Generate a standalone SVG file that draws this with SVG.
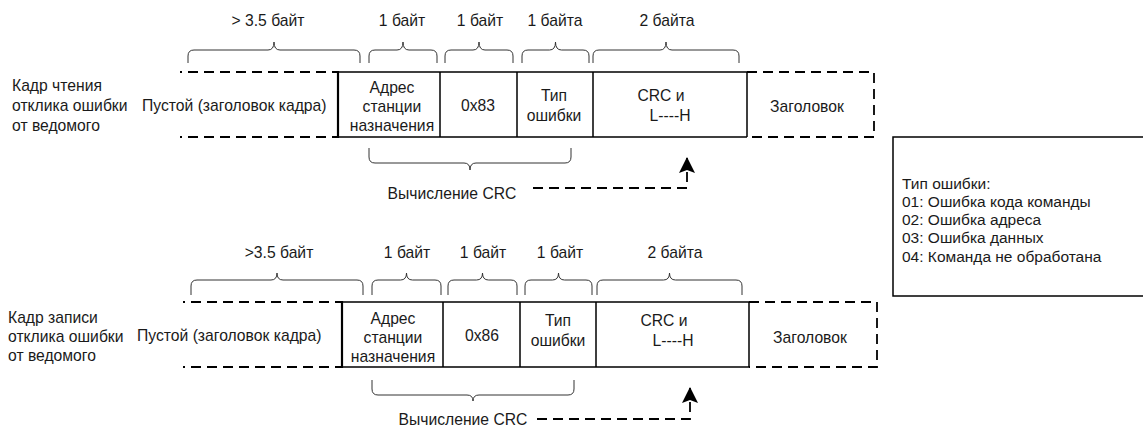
<svg xmlns="http://www.w3.org/2000/svg" width="1143" height="428" viewBox="0 0 1143 428">
<style>
text{font-family:"Liberation Sans",Arial,sans-serif;font-size:15.7px;fill:#1a1a1a}
.c{text-anchor:middle}
.solid{fill:none;stroke:#000;stroke-width:1.5}
.thick{fill:none;stroke:#000;stroke-width:2.2}
.dash{fill:none;stroke:#000;stroke-width:1.8;stroke-dasharray:10 6}
.brace{fill:none;stroke:#333;stroke-width:1}
.lg{font-size:15.5px}
</style>
<defs>
<marker id="ah" markerWidth="16" markerHeight="18" refX="15" refY="9" orient="auto" markerUnits="userSpaceOnUse" viewBox="0 0 16 18">
<path d="M16 9 L0 1 L3 9 L0 17 Z" fill="#000"/>
</marker>
</defs>

<!-- Row 1 -->
<g id="row1-label">
<text x="12" y="91">Кадр чтения</text>
<text x="12" y="111">отклика ошибки</text>
<text x="12" y="131">от ведомого</text>
</g>
<g id="row1-empty">
<path class="dash" d="M180 72 H338 M180 137 H338" stroke-dashoffset="8"/>
<text x="142" y="111">Пустой (заголовок кадра)</text>
</g>
<g id="row1-addr">
<path class="thick" d="M338 71 V138"/>
<path class="solid" d="M338 72 H440 M338 137 H440"/>
<text class="c" x="392" y="93">Адрес</text>
<text class="c" x="392" y="112">станции</text>
<text class="c" x="392" y="131">назначения</text>
</g>
<g id="row1-func">
<path class="solid" d="M440 72 V137 M440 72 H517 M440 137 H517"/>
<text class="c" x="478" y="111">0x83</text>
</g>
<g id="row1-type">
<path class="solid" d="M517 72 V137 M517 72 H593 M517 137 H593"/>
<text class="c" x="554" y="101">Тип</text>
<text class="c" x="554" y="121">ошибки</text>
</g>
<g id="row1-crc">
<path class="solid" d="M593 72 V137 M593 72 H747 M593 137 H747 M747 72 V137"/>
<text class="c" x="661" y="101">CRC и</text>
<text class="c" x="670" y="121">L----H</text>
</g>
<g id="row1-head">
<path class="dash" d="M747 72 H874 V137 H747"/>
<text class="c" x="807" y="112">Заголовок</text>
</g>

<!-- Row 2 -->
<g id="row2-label">
<text x="8" y="323">Кадр записи</text>
<text x="8" y="342">отклика ошибки</text>
<text x="8" y="361">от ведомого</text>
</g>
<g id="row2-empty">
<path class="dash" d="M183 302 H342 M183 367 H342" stroke-dashoffset="8"/>
<text x="137" y="341">Пустой (заголовок кадра)</text>
</g>
<g id="row2-addr">
<path class="thick" d="M342 301 V368"/>
<path class="solid" d="M342 302 H443 M342 367 H443"/>
<text class="c" x="393" y="324">Адрес</text>
<text class="c" x="393" y="343">станции</text>
<text class="c" x="393" y="362">назначения</text>
</g>
<g id="row2-func">
<path class="solid" d="M443 302 V367 M443 302 H520 M443 367 H520"/>
<text class="c" x="482" y="341">0x86</text>
</g>
<g id="row2-type">
<path class="solid" d="M520 302 V367 M520 302 H596 M520 367 H596"/>
<text class="c" x="558" y="326">Тип</text>
<text class="c" x="558" y="346">ошибки</text>
</g>
<g id="row2-crc">
<path class="solid" d="M596 302 V367 M596 302 H749 M596 367 H749 M749 302 V367"/>
<text class="c" x="664" y="326">CRC и</text>
<text class="c" x="673" y="346">L----H</text>
</g>
<g id="row2-head">
<path class="dash" d="M749 302 H877 V367 H749"/>
<text class="c" x="810" y="343">Заголовок</text>
</g>

<!-- Legend -->
<g id="legend">
<rect x="893" y="137" width="260" height="159" class="solid"/>
<text class="lg" x="902" y="189">Тип ошибки:</text>
<text class="lg" x="902" y="207">01: Ошибка кода команды</text>
<text class="lg" x="902" y="225">02: Ошибка адреса</text>
<text class="lg" x="902" y="243">03: Ошибка данных</text>
<text class="lg" x="902" y="262">04: Команда не обработана</text>
</g>

<!-- Braces and size labels -->
<g id="braces">
<path class="brace" d="M188 63 V56 Q188 50 194 50 H268 Q274 50 274 42 Q274 50 280 50 H354 Q360 50 360 56 V63"/>
<path class="brace" d="M369 63 V56 Q369 50 375 50 H397 Q403 50 403 42 Q403 50 409 50 H431 Q437 50 437 56 V63"/>
<path class="brace" d="M445 63 V56 Q445 50 451 50 H473 Q479 50 479 42 Q479 50 485 50 H507 Q513 50 513 56 V63"/>
<path class="brace" d="M522 63 V56 Q522 50 528 50 H549.5 Q555.5 50 555.5 42 Q555.5 50 561.5 50 H583 Q589 50 589 56 V63"/>
<path class="brace" d="M593 63 V56 Q593 50 599 50 H660 Q666 50 666 42 Q666 50 672 50 H733 Q739 50 739 56 V63"/>
<path class="brace" d="M369 148 V157 Q369 163 375 163 H464 Q470 163 470 170 Q470 163 476 163 H565 Q571 163 571 157 V148"/>

<path class="brace" d="M191 295 V286 Q191 280 197 280 H271 Q277 280 277 273 Q277 280 283 280 H357 Q363 280 363 286 V295"/>
<path class="brace" d="M372 295 V286 Q372 280 378 280 H400.5 Q406.5 280 406.5 273 Q406.5 280 412.5 280 H435 Q441 280 441 286 V295"/>
<path class="brace" d="M448 295 V286 Q448 280 454 280 H476.5 Q482.5 280 482.5 273 Q482.5 280 488.5 280 H511 Q517 280 517 286 V295"/>
<path class="brace" d="M525 295 V286 Q525 280 531 280 H552.5 Q558.5 280 558.5 273 Q558.5 280 564.5 280 H586 Q592 280 592 286 V295"/>
<path class="brace" d="M597 295 V286 Q597 280 603 280 H663.5 Q669.5 280 669.5 273 Q669.5 280 675.5 280 H736 Q742 280 742 286 V295"/>
<path class="brace" d="M372 380 V389 Q372 395 378 395 H467 Q473 395 473 401 Q473 395 479 395 H568 Q574 395 574 389 V380"/>
</g>
<g id="size-labels">
<text class="c" x="268" y="26">&gt;  3.5 байт</text>
<text class="c" x="402" y="26">1 байт</text>
<text class="c" x="480" y="26">1 байт</text>
<text class="c" x="555" y="26">1 байта</text>
<text class="c" x="667" y="26">2 байта</text>
<text class="c" x="279" y="258">&gt;3.5 байт</text>
<text class="c" x="407" y="258">1 байт</text>
<text class="c" x="483" y="258">1 байт</text>
<text class="c" x="560" y="258">1 байт</text>
<text class="c" x="675" y="258">2 байта</text>
</g>

<!-- CRC connectors -->
<g id="connectors">
<text class="c" x="452" y="199">Вычисление CRC</text>
<path class="dash" d="M533 188 H687 V158" marker-end="url(#ah)"/>
<text class="c" x="463" y="425">Вычисление CRC</text>
<path class="dash" d="M537 419 H690 V388" marker-end="url(#ah)"/>
</g>
</svg>
